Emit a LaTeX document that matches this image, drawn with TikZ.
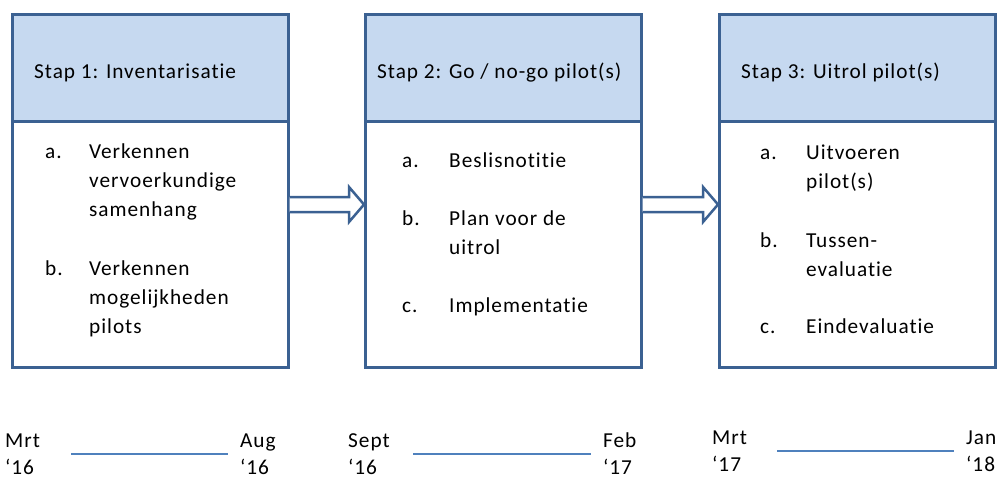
\documentclass[tikz,border=0pt]{standalone}
\usepackage{fontspec}
\setmainfont[Ligatures={NoCommon},LetterSpace=4.5]{Carlito}
\usetikzlibrary{calc}
\definecolor{bordc}{HTML}{3B6192}
\definecolor{hdrc}{HTML}{C6D9F0}
\definecolor{linec}{HTML}{4F81BD}
\begin{document}
\begin{tikzpicture}[x=1pt,y=-1pt,
  hdr/.style={draw=bordc, fill=hdrc, line width=2.5pt, minimum width=276pt, minimum height=107pt, anchor=north west, inner sep=0pt},
  bod/.style={draw=bordc, fill=white, line width=2.5pt, minimum width=276pt, minimum height=246pt, anchor=north west, inner sep=0pt},
  txt/.style={anchor=base west, inner sep=0pt, font=\fontsize{21.3}{29}\selectfont},
  arr/.style={draw=bordc, line width=2.5pt, line join=miter},
  dline/.style={draw=linec, line width=1.3pt}]
\useasboundingbox (0,0) rectangle (998,477);
% boxes
\node[bod] (b1) at (11,120) {};
\node[hdr] (h1) at (11,13) {};
\node[bod] (b2) at (364,120) {};
\node[hdr] (h2) at (364,13) {};
\node[bod] (b3) at (718,120) {};
\node[hdr] (h3) at (718,13) {};
% arrows
\coordinate (a1s) at ($(b1.north east)+(0,84.5)$);
\coordinate (a1e) at ($(b2.north west)+(0,84.5)$);
\coordinate (a2s) at ($(b2.north east)+(0,84.5)$);
\coordinate (a2e) at ($(b3.north west)+(0,84.5)$);
\fill[white] ($(a1s)+(0,-7.5)$) -- ($(a1e)+(-15,-7.5)$) -- ($(a1e)+(-15,-17.5)$) -- (a1e) -- ($(a1e)+(-15,17.5)$) -- ($(a1e)+(-15,7.5)$) -- ($(a1s)+(0,7.5)$) -- cycle;
\draw[arr] ($(a1s)+(0,-7.5)$) -- ($(a1e)+(-15,-7.5)$) -- ($(a1e)+(-15,-17.5)$) -- (a1e) -- ($(a1e)+(-15,17.5)$) -- ($(a1e)+(-15,7.5)$) -- ($(a1s)+(0,7.5)$);
\fill[white] ($(a2s)+(0,-7.5)$) -- ($(a2e)+(-15,-7.5)$) -- ($(a2e)+(-15,-17.5)$) -- (a2e) -- ($(a2e)+(-15,17.5)$) -- ($(a2e)+(-15,7.5)$) -- ($(a2s)+(0,7.5)$) -- cycle;
\draw[arr] ($(a2s)+(0,-7.5)$) -- ($(a2e)+(-15,-7.5)$) -- ($(a2e)+(-15,-17.5)$) -- (a2e) -- ($(a2e)+(-15,17.5)$) -- ($(a2e)+(-15,7.5)$) -- ($(a2s)+(0,7.5)$);
% headers
\node[txt] (t1) at (34,78) {Stap 1: Inventarisatie};
\node[txt] (t2) at (377,78) {Stap 2: Go / no-go pilot(s)};
\node[txt] (t3) at (741,78) {Stap 3: Uitrol pilot(s)};
% box 1 items
\node[txt] (l1a) at (45,158) {a.};
\node[txt] (i1a1) at (89,158) {Verkennen};
\node[txt] (i1a2) at (89,187) {vervoerkundige};
\node[txt] (i1a3) at (89,216) {samenhang};
\node[txt] (l1b) at (45,275) {b.};
\node[txt] (i1b1) at (89,275) {Verkennen};
\node[txt] (i1b2) at (89,304) {mogelijkheden};
\node[txt] (i1b3) at (89,333) {pilots};
% box 2 items
\node[txt] (l2a) at (402,167) {a.};
\node[txt] (i2a1) at (449,167) {Beslisnotitie};
\node[txt] (l2b) at (402,225) {b.};
\node[txt] (i2b1) at (449,225) {Plan voor de};
\node[txt] (i2b2) at (449,254) {uitrol};
\node[txt] (l2c) at (402,312) {c.};
\node[txt] (i2c1) at (449,312) {Implementatie};
% box 3 items
\node[txt] (l3a) at (760,159) {a.};
\node[txt] (i3a1) at (806,159) {Uitvoeren};
\node[txt] (i3a2) at (806,188) {pilot(s)};
\node[txt] (l3b) at (760,247) {b.};
\node[txt] (i3b1) at (806,247) {Tussen-};
\node[txt] (i3b2) at (806,276) {evaluatie};
\node[txt] (l3c) at (760,333) {c.};
\node[txt] (i3c1) at (806,333) {Eindevaluatie};
% dates
\node[txt] (d1a) at (5,447) {Mrt};
\node[txt] (d1b) at (5,474) {‘16};
\node[txt] (d2a) at (240,447) {Aug};
\node[txt] (d2b) at (240,474) {‘16};
\node[txt] (d3a) at (348,447) {Sept};
\node[txt] (d3b) at (348,474) {‘16};
\node[txt] (d4a) at (603,447) {Feb};
\node[txt] (d4b) at (603,474) {‘17};
\node[txt] (d5a) at (712,444) {Mrt};
\node[txt] (d5b) at (712,471) {‘17};
\node[txt] (d6a) at (966,444) {Jan};
\node[txt] (d6b) at (966,471) {‘18};
\coordinate (p1s) at (71,454); \coordinate (p1e) at (228,454);
\coordinate (p2s) at (413,454); \coordinate (p2e) at (591,454);
\coordinate (p3s) at (777,451); \coordinate (p3e) at (954,451);
\draw[dline] (p1s) -- (p1e);
\draw[dline] (p2s) -- (p2e);
\draw[dline] (p3s) -- (p3e);
\end{tikzpicture}
\end{document}
